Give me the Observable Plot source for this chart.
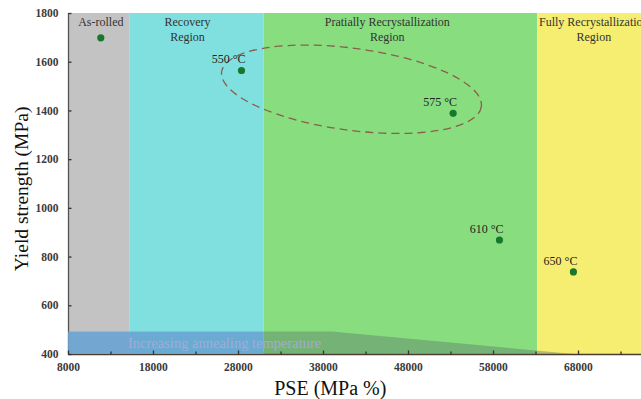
<!DOCTYPE html>
<html>
<head>
<meta charset="utf-8">
<script src="https://cdn.jsdelivr.net/npm/d3@7"></script>
<script src="https://cdn.jsdelivr.net/npm/@observablehq/plot@0.6"></script>
<style>
  html, body { margin: 0; padding: 0; background: #fff; overflow: hidden; }
  #chart svg { display: block; overflow: hidden; }
</style>
</head>
<body>
<div id="chart"></div>
<script>
// ---- data ----
const pointLabels = ["As-rolled", "550 °C", "575 °C", "610 °C", "650 °C"];
const pse = [11800, 28350, 53250, 58700, 67400];
const yieldStrength = [1700, 1566, 1390, 870, 739];

const regionNames = ["As-rolled", "Recovery\nRegion", "Pratially Recrystallization\nRegion", "Fully Recrystallization\nRegion"];
const regionStart = [8000, 15200, 31000, 63200];
const regionEnd = [15200, 31000, 63200, 75400];
const regionLabelX = [11800, 22000, 45500, 69800];
const regionColors = ["#c3c3c3", "#80e0df", "#88dd7f", "#f5ee70"];

const bandText = "Increasing annealing temperature";
const bandLeftPSE = [8000, 31000];
const bandRightPSE = [31000, 39000, 67500];
const bandRightTop = [492, 492, 400];
const bandTop = 492;

const xTicks = [8000, 18000, 28000, 38000, 48000, 58000, 68000];
const xMinorTicks = [13000, 23000, 33000, 43000, 53000, 63000, 73000];
const yTicks = [400, 600, 800, 1000, 1200, 1400, 1600, 1800];

const ellipseCenter = {pse: 41350, ys: 1487}; // annotation ellipse center

// ---- helpers ----
const regions = regionNames.map((name, i) => ({name, x1: regionStart[i], x2: regionEnd[i], lx: regionLabelX[i], color: regionColors[i]}));
const points = pointLabels.map((label, i) => ({label, x: pse[i], y: yieldStrength[i]}));
const bandRight = bandRightPSE.map((x, i) => ({x, top: bandRightTop[i]}));

const tickMark = (dx, dy) => ({draw(ctx) { ctx.moveTo(0, 0); ctx.lineTo(dx, dy); }});
const font = "'Liberation Serif', 'Times New Roman', serif";

const ellipseMark = (index, scales) => {
  const cx = scales.x(ellipseCenter.pse), cy = scales.y(ellipseCenter.ys);
  const g = d3.create("svg:g");
  g.append("ellipse")
    .attr("cx", 0).attr("cy", 0)
    .attr("rx", 131).attr("ry", 41)
    .attr("transform", `translate(${cx},${cy}) rotate(7.6)`)
    .attr("fill", "none")
    .attr("stroke", "#8a5e4c")
    .attr("stroke-width", 1.3)
    .attr("stroke-dasharray", "8,5");
  return g.node();
};

const chart = Plot.plot({
  width: 641,
  height: 399,
  marginLeft: 68,
  marginRight: 0,
  marginTop: 13,
  marginBottom: 45,
  style: {fontFamily: font, fontSize: "11.5px", background: "#fff", overflow: "hidden"},
  x: {domain: [8000, 75412]},
  y: {domain: [400, 1800]},
  marks: [
    Plot.rect(regions, {x1: "x1", x2: "x2", y1: 400, y2: 1800, fill: "color"}),
    Plot.ruleX([8000], {y1: 400, y2: 1800, stroke: "#555", strokeWidth: 1.3}),
    Plot.ruleY([400], {stroke: "#4a3d30", strokeWidth: 1.6}),
    Plot.rect([bandLeftPSE], {x1: d => d[0], x2: d => d[1], y1: 400, y2: bandTop, fill: "rgb(104,162,210)", fillOpacity: 0.88}),
    Plot.areaY(bandRight, {x: "x", y1: 400, y2: "top", fill: "#5f7f6a", fillOpacity: 0.45}),
    Plot.dot(xTicks, {x: d => d, y: 400, symbol: tickMark(0, -4), stroke: "#333", fill: "none", strokeWidth: 1.3}),
    Plot.dot(xMinorTicks, {x: d => d, y: 400, symbol: tickMark(0, -3), stroke: "#333", fill: "none", strokeWidth: 1.3}),
    Plot.dot(yTicks, {x: 8000, y: d => d, symbol: tickMark(3, 0), stroke: "#333", fill: "none", strokeWidth: 1.3}),
    Plot.axisX({ticks: xTicks, tickSize: 0, tickPadding: 8, tickFormat: d => String(d), fontWeight: "bold", fill: "#3a3a3a", label: null}),
    Plot.axisY({ticks: yTicks, tickSize: 0, tickPadding: 10, tickFormat: d => String(d), fontWeight: "bold", fill: "#3a3a3a", label: null}),
    Plot.text([bandText], {x: 15000, y: 447, text: d => d, textAnchor: "start", fontSize: 14.5, fill: "#a2acd6"}),
    ellipseMark,
    Plot.dot(points, {x: "x", y: "y", r: 3.6, fill: "#16782c"}),
    Plot.text(points.slice(1), {x: "x", y: "y", text: "label", textAnchor: "end", dx: 4, dy: -11, fontSize: 12, fill: "#222"}),
    Plot.text(regions, {x: "lx", y: 1800, text: "name", lineAnchor: "top", dy: 2, lineHeight: 1.25, fontSize: 12, fill: "#333"}),
    Plot.text(["PSE (MPa %)"], {x: 38800, frameAnchor: "bottom", lineAnchor: "middle", textAnchor: "middle", dy: 34, text: d => d, fontSize: 20, fill: "#111"}),
    Plot.text(["Yield strength (MPa)"], {y: 1080, frameAnchor: "left", textAnchor: "middle", lineAnchor: "middle", dx: -47, rotate: -90, text: d => d, fontSize: 19.5, fill: "#111"})
  ]
});
document.getElementById("chart").appendChild(chart);
</script>
</body>
</html>
